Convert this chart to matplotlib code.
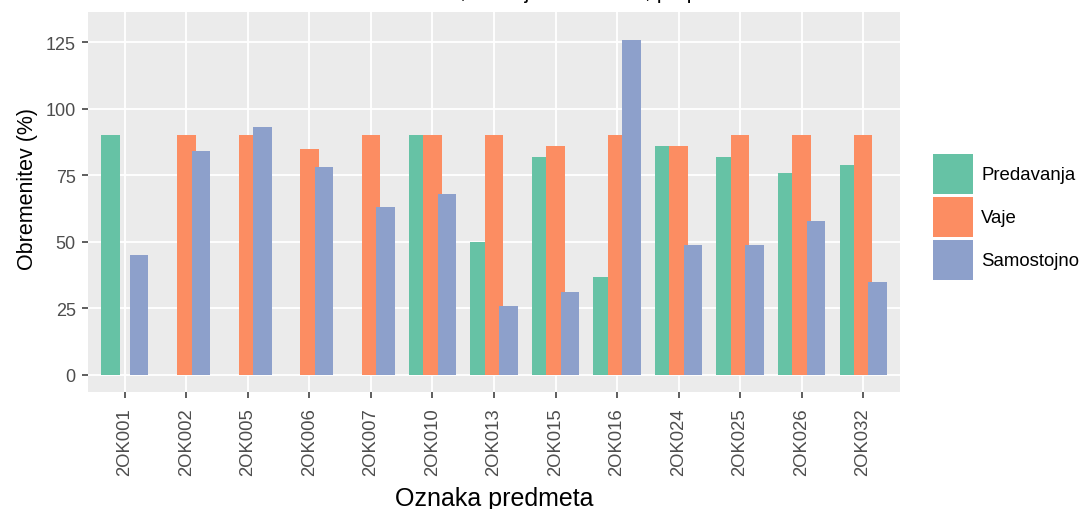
import numpy as np
import matplotlib
matplotlib.use('Agg')
import matplotlib.pyplot as plt
from matplotlib.patches import Patch

# --- DATA ---
courses = ['2OK001', '2OK002', '2OK005', '2OK006', '2OK007', '2OK010', '2OK013',
           '2OK015', '2OK016', '2OK024', '2OK025', '2OK026', '2OK032']
nan = np.nan
predavanja = [90, nan, nan, nan, nan, 90, 50, 82, 37, 86, 82, 76, 79]
vaje = [nan, 90, 90, 85, 90, 90, 90, 86, 90, 86, 90, 90, 90]
samostojno = [45, 84, 93, 78, 63, 68, 26, 31, 126, 49, 49, 58, 35]
series_names = ['Predavanja', 'Vaje', 'Samostojno']
y_ticks = [0, 25, 50, 75, 100, 125]

colors = ['#66C2A5', '#FC8D62', '#8DA0CB']
title = 'Obremenitev študentov, izmerjena v anketi, po predmetih'

plt.rcParams['font.family'] = ['Liberation Sans', 'DejaVu Sans']

fig = plt.figure(figsize=(10.84, 5.10), dpi=100)
ax = fig.add_axes([88 / 1084, 1 - 393.3 / 510, (900 - 88) / 1084, (393.3 - 12.7) / 510])

ax.set_facecolor('#EBEBEB')
ax.set_axisbelow(True)
ax.grid(color='white', linewidth=1.3)

x = np.arange(len(courses))
dodge = 0.7 / 3
bar_w = 0.3
for i, (vals, c) in enumerate(zip([predavanja, vaje, samostojno], colors)):
    ax.bar(x + (i - 1) * dodge, vals, width=bar_w, color=c, edgecolor='none', zorder=2 + i)

ax.set_xlim(-0.6, len(courses) - 1 + 0.6)
ax.set_ylim(-6.5, 136.5)
ax.set_xticks(x)
ax.set_xticklabels(courses, rotation=90, fontsize=13.3, color='#4D4D4D')
ax.set_yticks(y_ticks)
ax.set_yticklabels([str(t) for t in y_ticks], fontsize=13, color='#4D4D4D')
ax.tick_params(axis='both', length=4.5, width=1.1, color='#333333')
ax.tick_params(axis='x', pad=6.5)
ax.tick_params(axis='y', pad=4.3)
for s in ax.spines.values():
    s.set_visible(False)

ax.set_xlabel('Oznaka predmeta', fontsize=18, color='black', va='top')
ax.xaxis.set_label_coords(0.5, -0.246)
ax.set_ylabel('Obremenitev (%)', fontsize=15.5, color='black')
ax.yaxis.set_label_coords(-0.062, 0.537)

# legend: ~40px keys, 3px apart
handles = [Patch(facecolor=c, edgecolor='none', label=n) for c, n in zip(colors, series_names)]
fig.legend(handles=handles, loc='upper left', bbox_to_anchor=(933 / 1084, 1 - 155 / 510),
           frameon=False, fontsize=13.4, borderpad=0, handlelength=2.15, handleheight=2.93,
           labelspacing=0.16, handletextpad=0.45, borderaxespad=0)

# title, mostly cut by the top edge: put the comma near x=462
renderer = fig.canvas.get_renderer()
probe = fig.text(0, 0, title.split(',')[0], fontsize=15.5)
w = probe.get_window_extent(renderer).width
probe.remove()
fig.text((462 - w) / 1084, 1 + 2.5 / 510, title, fontsize=15.5, ha='left', va='baseline')

fig.savefig('out.png', dpi=100)
